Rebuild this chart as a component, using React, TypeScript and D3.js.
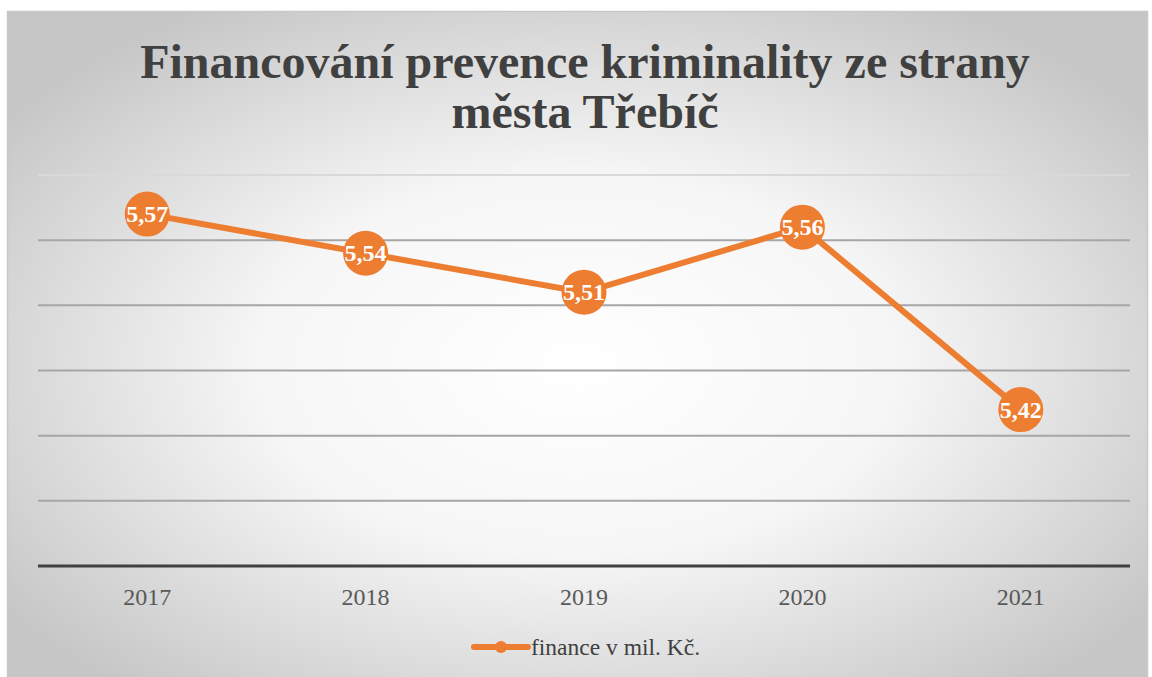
import { useEffect, useRef } from 'react'
import * as d3 from 'd3'

const years = ['2017', '2018', '2019', '2020', '2021']
const finance = [5.57, 5.54, 5.51, 5.56, 5.42]
const gridTicks = [5.3, 5.35, 5.4, 5.45, 5.5, 5.55, 5.6]
const titleLines = ['Financování prevence kriminality ze strany', 'města Třebíč']
const seriesName = 'finance v mil. Kč.'

const W = 1152
const H = 677
const ORANGE = '#ED7D31'
const FONT = '"Liberation Serif", "Times New Roman", serif'

const App = () => {
  const ref = useRef<SVGSVGElement>(null)

  useEffect(() => {
    const svg = d3.select(ref.current)
    svg.selectAll('*').remove()

    const defs = svg.append('defs')
    const grad = defs
      .append('radialGradient')
      .attr('id', 'bg')
      .attr('cx', '50%')
      .attr('cy', '52%')
      .attr('r', '62%')
    grad.append('stop').attr('offset', '0%').attr('stop-color', '#ffffff')
    grad.append('stop').attr('offset', '45%').attr('stop-color', '#f6f6f6')
    grad.append('stop').attr('offset', '100%').attr('stop-color', '#c6c6c6')

    svg
      .append('rect')
      .attr('x', 7.5)
      .attr('y', 11.5)
      .attr('width', 1140)
      .attr('height', 680)
      .attr('fill', 'url(#bg)')
      .attr('stroke', '#c8c8c8')
      .attr('stroke-width', 1.5)

    // title
    svg
      .append('g')
      .selectAll('text')
      .data(titleLines)
      .enter()
      .append('text')
      .attr('x', 585)
      .attr('y', (d, i) => 78 + i * 50)
      .attr('text-anchor', 'middle')
      .attr('font-family', FONT)
      .attr('font-weight', 'bold')
      .attr('font-size', 48)
      .attr('fill', '#404040')
      .text((d) => d)

    const x = d3.scaleBand().domain(years).range([38, 1130])
    const y = d3.scaleLinear().domain([5.3, 5.6]).range([566, 175])
    const cx = (d: string) => (x(d) as number) + x.bandwidth() / 2

    // gridlines
    svg
      .append('g')
      .selectAll('line')
      .data(gridTicks.slice(1))
      .enter()
      .append('line')
      .attr('x1', 38)
      .attr('x2', 1130)
      .attr('y1', (d) => y(d))
      .attr('y2', (d) => y(d))
      .attr('stroke', (d, i) => (i === gridTicks.length - 2 ? '#d9d9d9' : '#a6a6a6'))
      .attr('stroke-width', 2)

    // axis
    svg
      .append('line')
      .attr('x1', 38)
      .attr('x2', 1130)
      .attr('y1', y(5.3))
      .attr('y2', y(5.3))
      .attr('stroke', '#404040')
      .attr('stroke-width', 3)

    svg
      .append('g')
      .selectAll('text')
      .data(years)
      .enter()
      .append('text')
      .attr('x', (d) => cx(d))
      .attr('y', 605)
      .attr('text-anchor', 'middle')
      .attr('font-family', FONT)
      .attr('font-size', 24)
      .attr('fill', '#595959')
      .text((d) => d)

    const pts: [number, number][] = years.map((d, i) => [cx(d), y(finance[i])])

    svg
      .append('path')
      .attr('d', d3.line()(pts))
      .attr('fill', 'none')
      .attr('stroke', ORANGE)
      .attr('stroke-width', 6)
      .attr('stroke-linejoin', 'round')

    const marks = svg.append('g').selectAll('g').data(pts).enter().append('g')
    marks
      .append('circle')
      .attr('cx', (d) => d[0])
      .attr('cy', (d) => d[1])
      .attr('r', 22.5)
      .attr('fill', ORANGE)
    marks
      .append('text')
      .attr('x', (d) => d[0])
      .attr('y', (d) => d[1] + 8)
      .attr('text-anchor', 'middle')
      .attr('font-family', FONT)
      .attr('font-weight', 'bold')
      .attr('font-size', 24)
      .attr('fill', '#ffffff')
      .text((d, i) => d3.format('.2f')(finance[i]).replace('.', ','))

    // legend
    const lg = svg.append('g')
    lg.append('line')
      .attr('x1', 474)
      .attr('x2', 528)
      .attr('y1', 647)
      .attr('y2', 647)
      .attr('stroke', ORANGE)
      .attr('stroke-width', 6)
      .attr('stroke-linecap', 'round')
    lg.append('circle').attr('cx', 501).attr('cy', 647).attr('r', 6).attr('fill', ORANGE)
    lg.append('text')
      .attr('x', 531)
      .attr('y', 655)
      .attr('font-family', FONT)
      .attr('font-size', 23.5)
      .attr('fill', '#404040')
      .text(seriesName)
  }, [])

  return (
    <svg
      ref={ref}
      width={W}
      height={H}
      style={{ position: 'absolute', left: 0, top: 0, display: 'block' }}
    />
  )
}

export default App
